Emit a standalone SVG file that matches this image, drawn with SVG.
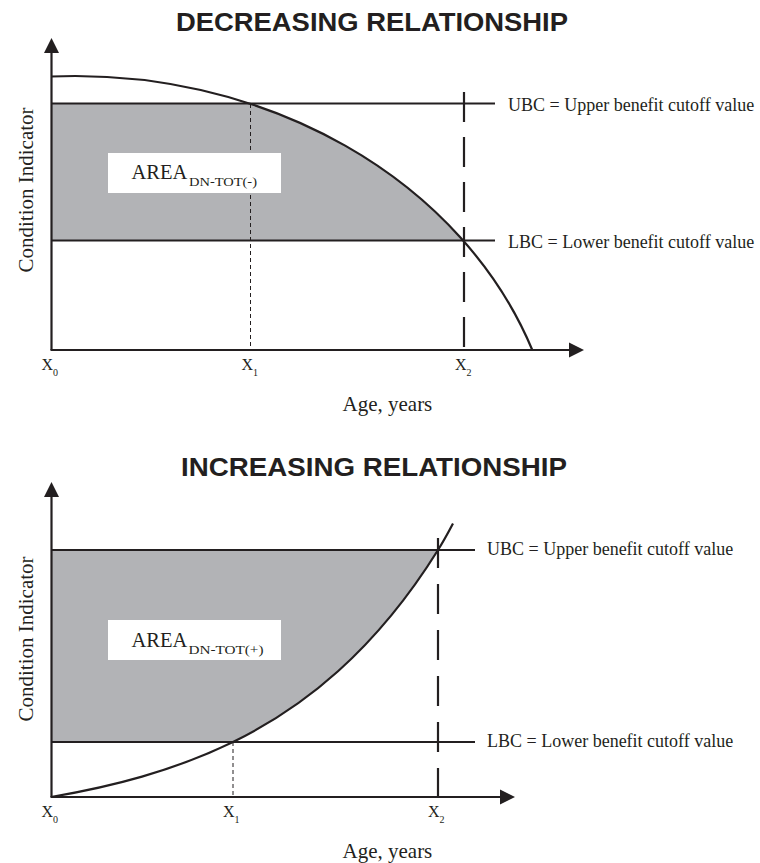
<svg xmlns="http://www.w3.org/2000/svg" width="760" height="863" viewBox="0 0 760 863">
<style>
.title{font-family:"Liberation Sans",Arial,sans-serif;font-weight:bold;font-size:25px;fill:#231f20}
.serif{font-family:"Liberation Serif","Times New Roman",serif;fill:#231f20}
.lab{font-size:18px}
.area{font-size:20.5px}
.sub{font-size:12px}
.xl{font-size:16px}
.xs{font-size:10px}
.ax{font-size:21px}
.axis{stroke:#231f20;stroke-width:2.2;fill:none}
.hl{stroke:#231f20;stroke-width:2;fill:none}
.curve{stroke:#231f20;stroke-width:2.2;fill:none}
.d1{stroke:#231f20;stroke-width:1;stroke-dasharray:4 3;fill:none}
.d2{stroke:#231f20;stroke-width:2.2;stroke-dasharray:30 15;fill:none}
.shade{fill:#b2b3b6;stroke:none}
.box{fill:#ffffff}
</style>
<defs>
<marker id="arr" markerUnits="userSpaceOnUse" markerWidth="16" markerHeight="16" viewBox="0 0 16 16" refX="1" refY="8" orient="auto">
<path d="M0,0.5 L15,8 L0,15.5 Z" fill="#231f20"/>
</marker>
</defs>

<g id="chart-decreasing">
<text class="title" x="176" y="31" textLength="392" lengthAdjust="spacingAndGlyphs">DECREASING RELATIONSHIP</text>
<path class="shade" d="M51,104 L251,104 A485,411 0 0 1 463.5,241 L51,241 Z"/>
<g id="connectors-top">
<line class="hl" x1="51" y1="103.5" x2="495" y2="103.5"/>
<line class="hl" x1="51" y1="240.5" x2="495" y2="240.5"/>
<line class="d1" x1="250.5" y1="104" x2="250.5" y2="350"/>
<line class="d2" x1="464" y1="92" x2="464" y2="350"/>
<path class="curve" d="M51,76.5 A485,411 0 0 1 532.3,350"/>
<line class="axis" x1="51.5" y1="350" x2="51.5" y2="52" marker-end="url(#arr)"/>
<line class="axis" x1="50.5" y1="350" x2="570" y2="350" marker-end="url(#arr)"/>
</g>
<g id="area-top">
<rect class="box" x="108" y="153" width="173" height="40"/>
<text class="serif area" x="131.5" y="178.5">AREA</text>
<text class="serif sub" x="189" y="186" textLength="68" lengthAdjust="spacingAndGlyphs">DN-TOT(-)</text>
</g>
<text class="serif lab" x="508" y="111">UBC = Upper benefit cutoff value</text>
<text class="serif lab" x="508" y="248">LBC = Lower benefit cutoff value</text>
<text class="serif ax" transform="translate(32.5,190) rotate(-90)" text-anchor="middle">Condition Indicator</text>
<text class="serif xl" x="41.5" y="370">X<tspan class="xs" dy="6">0</tspan></text>
<text class="serif xl" x="241.5" y="370">X<tspan class="xs" dy="6">1</tspan></text>
<text class="serif xl" x="455" y="370">X<tspan class="xs" dy="6">2</tspan></text>
<text class="serif ax" x="342.5" y="411">Age, years</text>
</g>

<g id="chart-increasing">
<text class="title" x="181" y="476" textLength="386" lengthAdjust="spacingAndGlyphs">INCREASING RELATIONSHIP</text>
<path class="shade" d="M51,742 L233,742 C268,724.9 303,702.8 338,671.3 C371.3,641.3 404.7,603.5 438,550 L51,550 Z"/>
<g id="connectors-bottom">
<line class="hl" x1="51" y1="550" x2="475" y2="550"/>
<line class="hl" x1="51" y1="742" x2="475" y2="742"/>
<line class="d1" x1="233" y1="742" x2="233" y2="797"/>
<line class="d2" x1="438" y1="538" x2="438" y2="797" style="stroke-dasharray:30 16"/>
<path class="curve" d="M51,797 C81.3,791.8 111.7,785.4 142,776.6 C172.3,767.8 202.7,756.8 233,742 C268,724.9 303,702.8 338,671.3 C371.3,641.3 404.7,603.5 438,550 C443,542 448,533 453,523.5"/>
<line class="axis" x1="51.5" y1="797" x2="51.5" y2="496" marker-end="url(#arr)"/>
<line class="axis" x1="50.5" y1="797" x2="501" y2="797" marker-end="url(#arr)"/>
</g>
<g id="area-bottom">
<rect class="box" x="108" y="620" width="173" height="40"/>
<text class="serif area" x="131.5" y="646.5">AREA</text>
<text class="serif sub" x="188.5" y="653.5" textLength="75" lengthAdjust="spacingAndGlyphs">DN-TOT(+)</text>
</g>
<text class="serif lab" x="487" y="555">UBC = Upper benefit cutoff value</text>
<text class="serif lab" x="487" y="747">LBC = Lower benefit cutoff value</text>
<text class="serif ax" transform="translate(32.5,639) rotate(-90)" text-anchor="middle">Condition Indicator</text>
<text class="serif xl" x="41.5" y="817">X<tspan class="xs" dy="6">0</tspan></text>
<text class="serif xl" x="223" y="817">X<tspan class="xs" dy="6">1</tspan></text>
<text class="serif xl" x="428" y="817">X<tspan class="xs" dy="6">2</tspan></text>
<text class="serif ax" x="342.5" y="858">Age, years</text>
</g>
</svg>
